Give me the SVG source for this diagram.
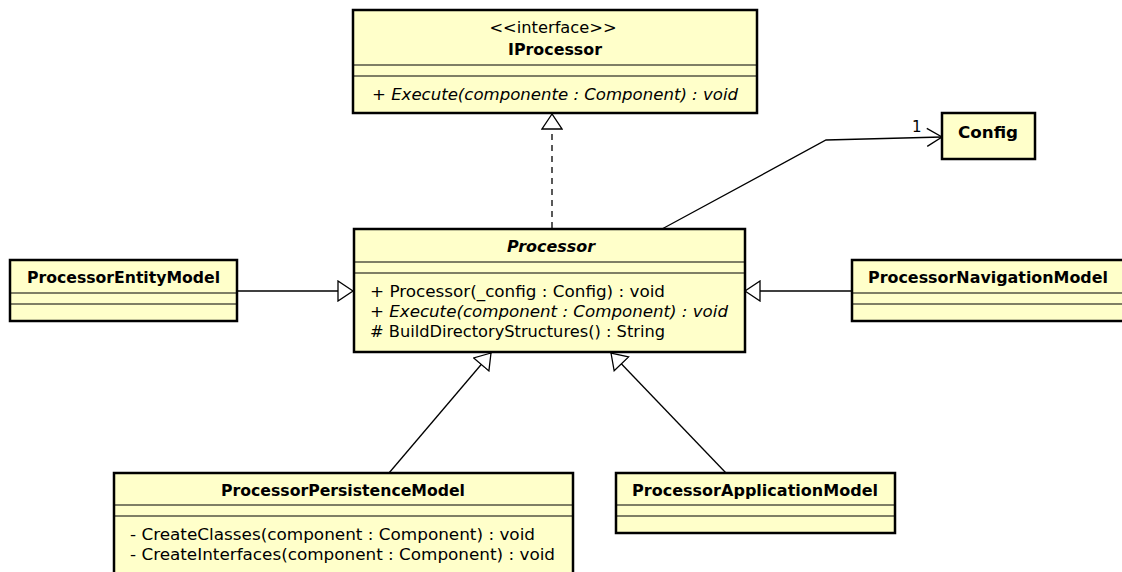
<svg xmlns="http://www.w3.org/2000/svg" width="1122" height="572" viewBox="0 0 1122 572">
  <style>
    .box { fill: #ffffca; stroke: #000; stroke-width: 2.5; }
    .sep { stroke: #000; stroke-width: 1.2; }
    .t { font-family: "DejaVu Sans", "Liberation Sans", sans-serif; font-size: 16px; fill: #000; }
    .name { font-weight: bold; text-anchor: middle; }
    .abs { font-style: italic; }
    .mult { font-size: 15px; }
    .edge { fill: none; stroke: #000; stroke-width: 1.3; }
    .dash { stroke-dasharray: 6 5; }
    .head { fill: #fff; stroke: #000; stroke-width: 1.3; }
  </style>
  <defs>
    <marker id="gen" markerWidth="18" markerHeight="22" refX="16" refY="11" orient="auto" markerUnits="userSpaceOnUse">
      <path class="head" d="M16,11 L1,1 L1,21 Z"/>
    </marker>
    <marker id="open" markerWidth="18" markerHeight="22" refX="16" refY="11" orient="auto" markerUnits="userSpaceOnUse">
      <path class="edge" d="M1,2 L16,11 L1,20"/>
    </marker>
  </defs>
  <rect width="1122" height="572" fill="#fff"/>

  <!-- connectors -->
  <g id="connectors">
    <line class="edge dash" x1="552" y1="228" x2="552" y2="114" marker-end="url(#gen)"/>
    <polyline class="edge" points="662,229 826,140 942,137" marker-end="url(#open)"/>
    <text class="t mult" x="912" y="132">1</text>
    <line class="edge" x1="237" y1="291" x2="353" y2="291" marker-end="url(#gen)"/>
    <line class="edge" x1="852" y1="291" x2="745" y2="291" marker-end="url(#gen)"/>
    <line class="edge" x1="389" y1="473" x2="491" y2="353" marker-end="url(#gen)"/>
    <line class="edge" x1="726" y1="473" x2="611" y2="353" marker-end="url(#gen)"/>
  </g>

  <!-- IProcessor interface -->
  <g id="IProcessor">
    <rect class="box" x="353" y="10" width="404" height="103"/>
    <line class="sep" x1="353" y1="65" x2="757" y2="65"/>
    <line class="sep" x1="353" y1="76" x2="757" y2="76"/>
    <text class="t" x="553" y="33" text-anchor="middle" textLength="127" lengthAdjust="spacingAndGlyphs">&lt;&lt;interface&gt;&gt;</text>
    <text class="t name" x="555" y="55" textLength="94" lengthAdjust="spacingAndGlyphs">IProcessor</text>
    <text class="t abs" x="372" y="100" textLength="366" lengthAdjust="spacingAndGlyphs">+ Execute(componente : Component) : void</text>
  </g>

  <!-- Processor abstract class -->
  <g id="Processor">
    <rect class="box" x="354" y="229" width="391" height="123"/>
    <line class="sep" x1="354" y1="262" x2="745" y2="262"/>
    <line class="sep" x1="354" y1="273" x2="745" y2="273"/>
    <text class="t name abs" x="551" y="252" textLength="88" lengthAdjust="spacingAndGlyphs">Processor</text>
    <text class="t" x="370" y="297" textLength="295" lengthAdjust="spacingAndGlyphs">+ Processor(_config : Config) : void</text>
    <text class="t abs" x="370" y="317" textLength="358" lengthAdjust="spacingAndGlyphs">+ Execute(component : Component) : void</text>
    <text class="t" x="370" y="337" textLength="295" lengthAdjust="spacingAndGlyphs"># BuildDirectoryStructures() : String</text>
  </g>

  <!-- Config -->
  <g id="Config">
    <rect class="box" x="942" y="113" width="93" height="46"/>
    <text class="t name" x="988" y="138" textLength="60" lengthAdjust="spacingAndGlyphs">Config</text>
  </g>

  <!-- ProcessorEntityModel -->
  <g id="ProcessorEntityModel">
    <rect class="box" x="10" y="260" width="227" height="61"/>
    <line class="sep" x1="10" y1="293" x2="237" y2="293"/>
    <line class="sep" x1="10" y1="304" x2="237" y2="304"/>
    <text class="t name" x="123.5" y="283" textLength="193" lengthAdjust="spacingAndGlyphs">ProcessorEntityModel</text>
  </g>

  <!-- ProcessorNavigationModel -->
  <g id="ProcessorNavigationModel">
    <rect class="box" x="852" y="260" width="272" height="61"/>
    <line class="sep" x1="852" y1="293" x2="1124" y2="293"/>
    <line class="sep" x1="852" y1="304" x2="1124" y2="304"/>
    <text class="t name" x="988" y="283" textLength="240" lengthAdjust="spacingAndGlyphs">ProcessorNavigationModel</text>
  </g>

  <!-- ProcessorPersistenceModel -->
  <g id="ProcessorPersistenceModel">
    <rect class="box" x="114" y="473" width="459" height="110"/>
    <line class="sep" x1="114" y1="505" x2="573" y2="505"/>
    <line class="sep" x1="114" y1="516" x2="573" y2="516"/>
    <text class="t name" x="343" y="496" textLength="244" lengthAdjust="spacingAndGlyphs">ProcessorPersistenceModel</text>
    <text class="t" x="130" y="540" textLength="405" lengthAdjust="spacingAndGlyphs">- CreateClasses(component : Component) : void</text>
    <text class="t" x="130" y="560" textLength="425" lengthAdjust="spacingAndGlyphs">- CreateInterfaces(component : Component) : void</text>
  </g>

  <!-- ProcessorApplicationModel -->
  <g id="ProcessorApplicationModel">
    <rect class="box" x="616" y="473" width="279" height="60"/>
    <line class="sep" x1="616" y1="505" x2="895" y2="505"/>
    <line class="sep" x1="616" y1="516" x2="895" y2="516"/>
    <text class="t name" x="755" y="496" textLength="246" lengthAdjust="spacingAndGlyphs">ProcessorApplicationModel</text>
  </g>
</svg>
